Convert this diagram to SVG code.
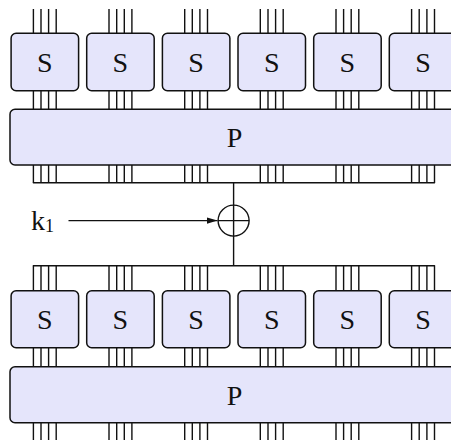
<svg xmlns="http://www.w3.org/2000/svg" width="451" height="440" viewBox="0 0 451 440">
<style>
.box{fill:#e5e5fb;stroke:#111;stroke-width:1.5}
.w{stroke:#111;stroke-width:1.4;fill:none}
.lbl{font-family:"Liberation Serif","DejaVu Serif",serif;font-size:28px;fill:#111;text-anchor:middle}
</style>
<defs>
<marker id="ah" markerWidth="12" markerHeight="8" refX="11" refY="4" orient="auto" markerUnits="userSpaceOnUse">
<path d="M0,0.8 L11,4 L0,7.2 Z" fill="#111"/>
</marker>
</defs>
<g id="connectors" class="w">
<path d="M33.4,9V33.3M41,9V33.3M48.6,9V33.3M56.2,9V33.3
M109,9V33.3M116.7,9V33.3M124.3,9V33.3M131.9,9V33.3
M184.7,9V33.3M192.3,9V33.3M199.9,9V33.3M207.5,9V33.3
M260.3,9V33.3M268,9V33.3M275.6,9V33.3M283.2,9V33.3
M336,9V33.3M343.6,9V33.3M351.2,9V33.3M358.8,9V33.3
M411.6,9V33.3M419.2,9V33.3M426.9,9V33.3M434.5,9V33.3"/>
<path d="M33.4,90.7V109.3M41,90.7V109.3M48.6,90.7V109.3M56.2,90.7V109.3
M109,90.7V109.3M116.7,90.7V109.3M124.3,90.7V109.3M131.9,90.7V109.3
M184.7,90.7V109.3M192.3,90.7V109.3M199.9,90.7V109.3M207.5,90.7V109.3
M260.3,90.7V109.3M268,90.7V109.3M275.6,90.7V109.3M283.2,90.7V109.3
M336,90.7V109.3M343.6,90.7V109.3M351.2,90.7V109.3M358.8,90.7V109.3
M411.6,90.7V109.3M419.2,90.7V109.3M426.9,90.7V109.3M434.5,90.7V109.3"/>
<path d="M33.4,165V182.7M41,165V182.7M48.6,165V182.7M56.2,165V182.7
M109,165V182.7M116.7,165V182.7M124.3,165V182.7M131.9,165V182.7
M184.7,165V182.7M192.3,165V182.7M199.9,165V182.7M207.5,165V182.7
M260.3,165V182.7M268,165V182.7M275.6,165V182.7M283.2,165V182.7
M336,165V182.7M343.6,165V182.7M351.2,165V182.7M358.8,165V182.7
M411.6,165V182.7M419.2,165V182.7M426.9,165V182.7M434.5,165V182.7"/>
<path d="M33.4,182.7H434.5" stroke-linecap="round"/>
<path d="M233.6,182.7V205.1M233.6,236.1V265.7"/>
<path d="M68.5,220.6H217.5" marker-end="url(#ah)"/>
<path d="M33.4,265.7H434.5" stroke-linecap="round"/>
<path d="M33.4,265.7V290.7M41,265.7V290.7M48.6,265.7V290.7M56.2,265.7V290.7
M109,265.7V290.7M116.7,265.7V290.7M124.3,265.7V290.7M131.9,265.7V290.7
M184.7,265.7V290.7M192.3,265.7V290.7M199.9,265.7V290.7M207.5,265.7V290.7
M260.3,265.7V290.7M268,265.7V290.7M275.6,265.7V290.7M283.2,265.7V290.7
M336,265.7V290.7M343.6,265.7V290.7M351.2,265.7V290.7M358.8,265.7V290.7
M411.6,265.7V290.7M419.2,265.7V290.7M426.9,265.7V290.7M434.5,265.7V290.7"/>
<path d="M33.4,347.7V366.7M41,347.7V366.7M48.6,347.7V366.7M56.2,347.7V366.7
M109,347.7V366.7M116.7,347.7V366.7M124.3,347.7V366.7M131.9,347.7V366.7
M184.7,347.7V366.7M192.3,347.7V366.7M199.9,347.7V366.7M207.5,347.7V366.7
M260.3,347.7V366.7M268,347.7V366.7M275.6,347.7V366.7M283.2,347.7V366.7
M336,347.7V366.7M343.6,347.7V366.7M351.2,347.7V366.7M358.8,347.7V366.7
M411.6,347.7V366.7M419.2,347.7V366.7M426.9,347.7V366.7M434.5,347.7V366.7"/>
<path d="M33.4,422.7V441M41,422.7V441M48.6,422.7V441M56.2,422.7V441
M109,422.7V441M116.7,422.7V441M124.3,422.7V441M131.9,422.7V441
M184.7,422.7V441M192.3,422.7V441M199.9,422.7V441M207.5,422.7V441
M260.3,422.7V441M268,422.7V441M275.6,422.7V441M283.2,422.7V441
M336,422.7V441M343.6,422.7V441M351.2,422.7V441M358.8,422.7V441
M411.6,422.7V441M419.2,422.7V441M426.9,422.7V441M434.5,422.7V441"/>
</g>
<g id="s1-1"><rect class="box" x="11.1" y="33.3" width="67.5" height="57.4" rx="5"/><text class="lbl" x="44.8" y="71.7">S</text></g>
<g id="s1-2"><rect class="box" x="86.7" y="33.3" width="67.5" height="57.4" rx="5"/><text class="lbl" x="120.4" y="71.7">S</text></g>
<g id="s1-3"><rect class="box" x="162.4" y="33.3" width="67.5" height="57.4" rx="5"/><text class="lbl" x="196.1" y="71.7">S</text></g>
<g id="s1-4"><rect class="box" x="238" y="33.3" width="67.5" height="57.4" rx="5"/><text class="lbl" x="271.7" y="71.7">S</text></g>
<g id="s1-5"><rect class="box" x="313.7" y="33.3" width="67.5" height="57.4" rx="5"/><text class="lbl" x="347.4" y="71.7">S</text></g>
<g id="s1-6"><rect class="box" x="389.3" y="33.3" width="67.5" height="57.4" rx="5"/><text class="lbl" x="423" y="71.7">S</text></g>
<g id="p1"><rect class="box" x="10" y="109.3" width="449" height="55.7" rx="5"/><text class="lbl" x="234.5" y="147.3">P</text></g>
<g id="k1"><text font-family="Liberation Serif, DejaVu Serif, serif" fill="#111" x="31" y="229.5" font-size="28">k<tspan font-size="18" dy="2.5">1</tspan></text></g>
<g id="xor" class="w"><circle cx="233.6" cy="220.6" r="15.5"/><path d="M218.1,220.6H249.1M233.6,205.1V236.1"/></g>
<g id="s2-1"><rect class="box" x="11.1" y="290.7" width="67.5" height="57" rx="5"/><text class="lbl" x="44.8" y="328.7">S</text></g>
<g id="s2-2"><rect class="box" x="86.7" y="290.7" width="67.5" height="57" rx="5"/><text class="lbl" x="120.4" y="328.7">S</text></g>
<g id="s2-3"><rect class="box" x="162.4" y="290.7" width="67.5" height="57" rx="5"/><text class="lbl" x="196.1" y="328.7">S</text></g>
<g id="s2-4"><rect class="box" x="238" y="290.7" width="67.5" height="57" rx="5"/><text class="lbl" x="271.7" y="328.7">S</text></g>
<g id="s2-5"><rect class="box" x="313.7" y="290.7" width="67.5" height="57" rx="5"/><text class="lbl" x="347.4" y="328.7">S</text></g>
<g id="s2-6"><rect class="box" x="389.3" y="290.7" width="67.5" height="57" rx="5"/><text class="lbl" x="423" y="328.7">S</text></g>
<g id="p2"><rect class="box" x="10" y="366.7" width="449" height="56" rx="5"/><text class="lbl" x="234.5" y="404.8">P</text></g>
</svg>
